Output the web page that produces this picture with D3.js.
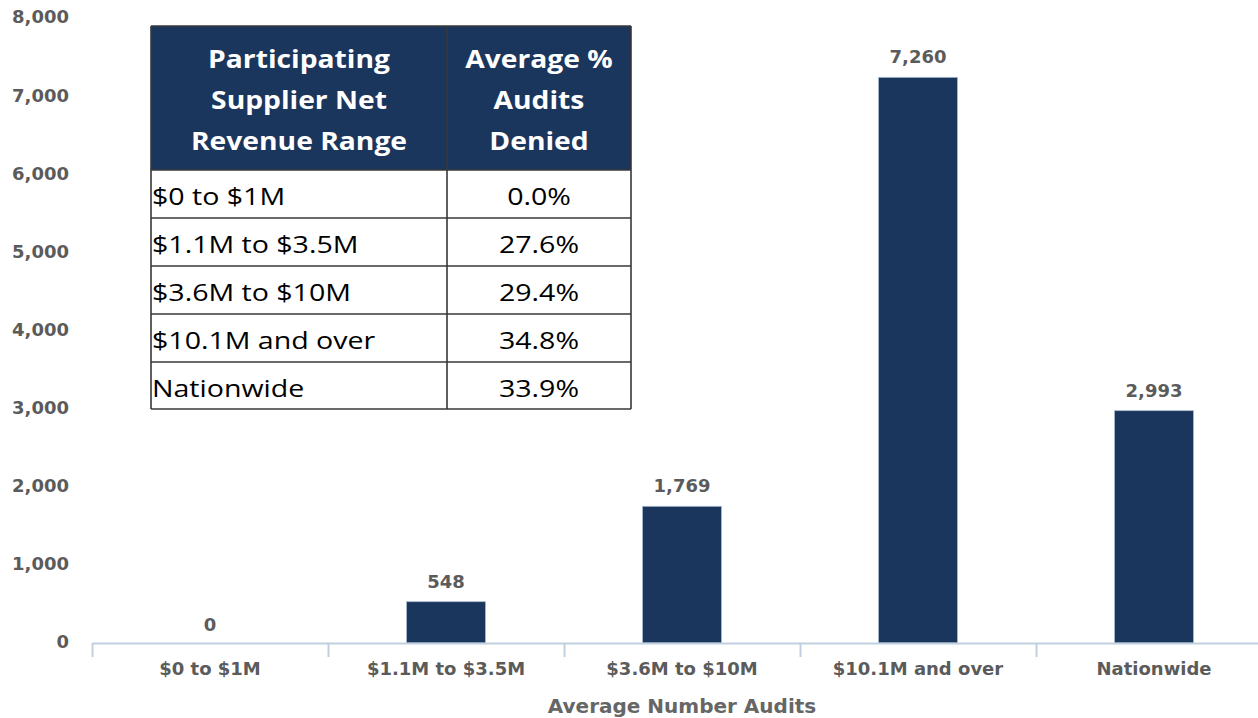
<!DOCTYPE html>
<html>
<head>
<meta charset="utf-8">
<script src="https://cdn.jsdelivr.net/npm/d3@7"></script>
<style>
  body { margin: 0; background: #fff; }
  svg { display: block; }
</style>
</head>
<body>
<div id="chart"></div>
<script>
const categories = ["$0 to $1M", "$1.1M to $3.5M", "$3.6M to $10M", "$10.1M and over", "Nationwide"];
const auditCounts = [0, 548, 1769, 7260, 2993];
const yTicks = [0, 1000, 2000, 3000, 4000, 5000, 6000, 7000, 8000];
const tableHeader = [["Participating", "Supplier Net", "Revenue Range"], ["Average %", "Audits", "Denied"]];
const tableRanges = ["$0 to $1M", "$1.1M to $3.5M", "$3.6M to $10M", "$10.1M and over", "Nationwide"];
const tableDenied = ["0.0%", "27.6%", "29.4%", "34.8%", "33.9%"];

const W = 1258, H = 718;
const navy = "#1b365d";
const labelColor = "#5b5b5b";
const labelFont = "'DejaVu Sans', Verdana, sans-serif";

const svg = d3.select("#chart")
    .append("svg")
    .attr("width", W)
    .attr("height", H);

const pad = 0.665;
const x = d3.scaleBand()
    .domain(categories)
    .range([92, 1272])
    .paddingInner(pad)
    .paddingOuter(pad / 2);

const y = d3.scaleLinear()
    .domain([0, 8000])
    .range([644.5, 19.5]);

const axisY = 643;

// y axis labels only, no line
svg.append("g")
    .selectAll("text")
    .data(yTicks)
    .join("text")
    .attr("x", 69)
    .attr("y", d => y(d) - 2.5)
    .attr("dy", "0.36em")
    .attr("text-anchor", "end")
    .attr("font-family", labelFont)
    .attr("font-weight", "bold")
    .attr("font-size", 18)
    .attr("fill", labelColor)
    .text(d => d3.format(",")(d));

// bars (clipped at the axis line)
svg.append("g")
    .selectAll("rect")
    .data(auditCounts)
    .join("rect")
    .attr("x", (d, i) => x(categories[i]))
    .attr("y", d => Math.min(y(d), axisY))
    .attr("width", x.bandwidth())
    .attr("height", d => Math.max(0, axisY - y(d)))
    .attr("fill", navy)
    .attr("stroke", d => d > 0 ? "#a9bcd3" : "none")
    .attr("stroke-width", 0.8);

// value labels
svg.append("g")
    .selectAll("text")
    .data(auditCounts)
    .join("text")
    .attr("x", (d, i) => x(categories[i]) + x.bandwidth() / 2)
    .attr("y", d => y(d) - 14)
    .attr("text-anchor", "middle")
    .attr("font-family", labelFont)
    .attr("font-weight", "bold")
    .attr("font-size", 18)
    .attr("fill", labelColor)
    .text(d => d3.format(",")(d));

// x axis
const xAxis = svg.append("g")
    .attr("transform", `translate(0,${axisY})`)
    .call(d3.axisBottom(x).tickSize(0).tickPadding(19));
xAxis.select(".domain").attr("stroke", "#c0d0e0").attr("stroke-width", 2);
xAxis.selectAll("text")
    .attr("font-family", labelFont)
    .attr("font-weight", "bold")
    .attr("font-size", 18)
    .attr("fill", labelColor);
// category boundary ticks
xAxis.selectAll(".bound")
    .data(categories)
    .join("line")
    .attr("class", "bound")
    .attr("x1", d => x(d) - x.step() * x.paddingOuter() + 0.5)
    .attr("x2", d => x(d) - x.step() * x.paddingOuter() + 0.5)
    .attr("y1", 0)
    .attr("y2", 14)
    .attr("stroke", "#c0d0e0")
    .attr("stroke-width", 2);

svg.append("text")
    .attr("x", 682)
    .attr("y", 713)
    .attr("text-anchor", "middle")
    .attr("font-family", labelFont)
    .attr("font-weight", "bold")
    .attr("font-size", 20)
    .attr("fill", "#666")
    .text("Average Number Audits");

// table overlay
const tbl = svg.append("g");
const colX = [151, 447, 631];
const rowY = [26, 170, 218, 266, 314, 362, 409];
const tblFont = "'Open Sans', 'Noto Sans', sans-serif";

tbl.append("rect")
    .attr("x", colX[0]).attr("y", rowY[0])
    .attr("width", colX[2] - colX[0]).attr("height", rowY[1] - rowY[0])
    .attr("fill", navy);
tbl.append("rect")
    .attr("x", colX[0]).attr("y", rowY[1])
    .attr("width", colX[2] - colX[0]).attr("height", rowY[6] - rowY[1])
    .attr("fill", "#fff");

// text stretched horizontally like the reference's wide face
function cellText(tx, ty, str, opts) {
    return tbl.append("text")
        .attr("transform", `translate(${tx},${ty}) scale(${opts.sx},1)`)
        .attr("text-anchor", opts.anchor)
        .attr("font-family", tblFont)
        .attr("font-weight", opts.weight)
        .attr("font-size", opts.size)
        .attr("fill", opts.fill)
        .text(str);
}

tableHeader.forEach((lines, c) => {
    const cx = (colX[c] + colX[c + 1]) / 2;
    lines.forEach((line, j) => {
        cellText(cx, 68 + j * 41, line,
            { sx: 1.13, anchor: "middle", weight: "bold", size: 25, fill: "#fff" });
    });
});

tableRanges.forEach((r, i) => {
    cellText(colX[0] + 1, rowY[i + 1] + 35, r,
        { sx: 1.19, anchor: "start", weight: "normal", size: 24, fill: "#000" });
    cellText((colX[1] + colX[2]) / 2, rowY[i + 1] + 35, tableDenied[i],
        { sx: 1.19, anchor: "middle", weight: "normal", size: 24, fill: "#000" });
});

// grid lines
rowY.forEach(yy => {
    tbl.append("line")
        .attr("x1", colX[0]).attr("x2", colX[2])
        .attr("y1", yy).attr("y2", yy)
        .attr("stroke", "#383838").attr("stroke-width", 1.6);
});
colX.forEach(xx => {
    tbl.append("line")
        .attr("x1", xx).attr("x2", xx)
        .attr("y1", rowY[0]).attr("y2", rowY[6])
        .attr("stroke", "#383838").attr("stroke-width", 1.6);
});
</script>
</body>
</html>
